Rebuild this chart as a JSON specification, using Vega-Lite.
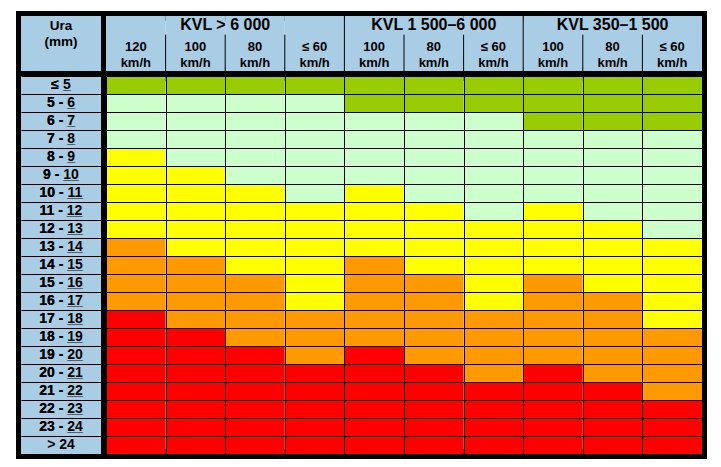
{
  "$schema": "https://vega.github.io/schema/vega-lite/v6.json",
  "background": "white",
  "padding": {"left": 16, "top": 10, "right": 5, "bottom": 5},
  "spacing": {"row": 4, "column": 5},
  "columns": 2,
  "bounds": "flush",
  "resolve": {"scale": {"x": "independent", "y": "independent"}, "axis": {"x": "independent", "y": "independent"}},
  "config": {
    "view": {"stroke": "black", "strokeWidth": 10},
    "text": {"font": "Liberation Sans", "fontWeight": "bold", "fill": "black"}
  },
  "datasets": {
    "head": [{"t": "Ura\n(mm)"}],
    "cols": [
      {"c": 1, "first": true, "sp": "120\nkm/h"},
      {"c": 2, "first": false, "sp": "100\nkm/h"},
      {"c": 3, "first": false, "sp": "80\nkm/h"},
      {"c": 4, "first": false, "sp": "≤ 60\nkm/h"},
      {"c": 5, "first": true, "sp": "100\nkm/h"},
      {"c": 6, "first": false, "sp": "80\nkm/h"},
      {"c": 7, "first": false, "sp": "≤ 60\nkm/h"},
      {"c": 8, "first": true, "sp": "100\nkm/h"},
      {"c": 9, "first": false, "sp": "80\nkm/h"},
      {"c": 10, "first": false, "sp": "≤ 60\nkm/h"}
    ],
    "groups": [
      {"g": 1, "name": "KVL > 6 000", "at": 3},
      {"g": 2, "name": "KVL 1 500–6 000", "at": 6},
      {"g": 3, "name": "KVL 350–1 500", "at": 9}
    ],
    "rows": [
      {"r": 1, "lab": "≤ 5", "ul": "≤ _"},
      {"r": 2, "lab": "5 - 6", "ul": "5 - _"},
      {"r": 3, "lab": "6 - 7", "ul": "6 - _"},
      {"r": 4, "lab": "7 - 8", "ul": "7 - _"},
      {"r": 5, "lab": "8 - 9", "ul": "8 - _"},
      {"r": 6, "lab": "9 - 10", "ul": "9 - __"},
      {"r": 7, "lab": "10 - 11", "ul": "10 - __"},
      {"r": 8, "lab": "11 - 12", "ul": "11 - __"},
      {"r": 9, "lab": "12 - 13", "ul": "12 - __"},
      {"r": 10, "lab": "13 - 14", "ul": "13 - __"},
      {"r": 11, "lab": "14 - 15", "ul": "14 - __"},
      {"r": 12, "lab": "15 - 16", "ul": "15 - __"},
      {"r": 13, "lab": "16 - 17", "ul": "16 - __"},
      {"r": 14, "lab": "17 - 18", "ul": "17 - __"},
      {"r": 15, "lab": "18 - 19", "ul": "18 - __"},
      {"r": 16, "lab": "19 - 20", "ul": "19 - __"},
      {"r": 17, "lab": "20 - 21", "ul": "20 - __"},
      {"r": 18, "lab": "21 - 22", "ul": "21 - __"},
      {"r": 19, "lab": "22 - 23", "ul": "22 - __"},
      {"r": 20, "lab": "23 - 24", "ul": "23 - __"},
      {"r": 21, "lab": "> 24", "ul": ""}
    ],
    "cells": [
      {"r":1,"c":1,"v":"G"},{"r":1,"c":2,"v":"G"},{"r":1,"c":3,"v":"G"},{"r":1,"c":4,"v":"G"},{"r":1,"c":5,"v":"G"},{"r":1,"c":6,"v":"G"},{"r":1,"c":7,"v":"G"},{"r":1,"c":8,"v":"G"},{"r":1,"c":9,"v":"G"},{"r":1,"c":10,"v":"G"},
      {"r":2,"c":1,"v":"L"},{"r":2,"c":2,"v":"L"},{"r":2,"c":3,"v":"L"},{"r":2,"c":4,"v":"L"},{"r":2,"c":5,"v":"G"},{"r":2,"c":6,"v":"G"},{"r":2,"c":7,"v":"G"},{"r":2,"c":8,"v":"G"},{"r":2,"c":9,"v":"G"},{"r":2,"c":10,"v":"G"},
      {"r":3,"c":1,"v":"L"},{"r":3,"c":2,"v":"L"},{"r":3,"c":3,"v":"L"},{"r":3,"c":4,"v":"L"},{"r":3,"c":5,"v":"L"},{"r":3,"c":6,"v":"L"},{"r":3,"c":7,"v":"L"},{"r":3,"c":8,"v":"G"},{"r":3,"c":9,"v":"G"},{"r":3,"c":10,"v":"G"},
      {"r":4,"c":1,"v":"L"},{"r":4,"c":2,"v":"L"},{"r":4,"c":3,"v":"L"},{"r":4,"c":4,"v":"L"},{"r":4,"c":5,"v":"L"},{"r":4,"c":6,"v":"L"},{"r":4,"c":7,"v":"L"},{"r":4,"c":8,"v":"L"},{"r":4,"c":9,"v":"L"},{"r":4,"c":10,"v":"L"},
      {"r":5,"c":1,"v":"Y"},{"r":5,"c":2,"v":"L"},{"r":5,"c":3,"v":"L"},{"r":5,"c":4,"v":"L"},{"r":5,"c":5,"v":"L"},{"r":5,"c":6,"v":"L"},{"r":5,"c":7,"v":"L"},{"r":5,"c":8,"v":"L"},{"r":5,"c":9,"v":"L"},{"r":5,"c":10,"v":"L"},
      {"r":6,"c":1,"v":"Y"},{"r":6,"c":2,"v":"Y"},{"r":6,"c":3,"v":"L"},{"r":6,"c":4,"v":"L"},{"r":6,"c":5,"v":"L"},{"r":6,"c":6,"v":"L"},{"r":6,"c":7,"v":"L"},{"r":6,"c":8,"v":"L"},{"r":6,"c":9,"v":"L"},{"r":6,"c":10,"v":"L"},
      {"r":7,"c":1,"v":"Y"},{"r":7,"c":2,"v":"Y"},{"r":7,"c":3,"v":"Y"},{"r":7,"c":4,"v":"L"},{"r":7,"c":5,"v":"Y"},{"r":7,"c":6,"v":"L"},{"r":7,"c":7,"v":"L"},{"r":7,"c":8,"v":"L"},{"r":7,"c":9,"v":"L"},{"r":7,"c":10,"v":"L"},
      {"r":8,"c":1,"v":"Y"},{"r":8,"c":2,"v":"Y"},{"r":8,"c":3,"v":"Y"},{"r":8,"c":4,"v":"Y"},{"r":8,"c":5,"v":"Y"},{"r":8,"c":6,"v":"Y"},{"r":8,"c":7,"v":"L"},{"r":8,"c":8,"v":"Y"},{"r":8,"c":9,"v":"L"},{"r":8,"c":10,"v":"L"},
      {"r":9,"c":1,"v":"Y"},{"r":9,"c":2,"v":"Y"},{"r":9,"c":3,"v":"Y"},{"r":9,"c":4,"v":"Y"},{"r":9,"c":5,"v":"Y"},{"r":9,"c":6,"v":"Y"},{"r":9,"c":7,"v":"Y"},{"r":9,"c":8,"v":"Y"},{"r":9,"c":9,"v":"Y"},{"r":9,"c":10,"v":"L"},
      {"r":10,"c":1,"v":"O"},{"r":10,"c":2,"v":"Y"},{"r":10,"c":3,"v":"Y"},{"r":10,"c":4,"v":"Y"},{"r":10,"c":5,"v":"Y"},{"r":10,"c":6,"v":"Y"},{"r":10,"c":7,"v":"Y"},{"r":10,"c":8,"v":"Y"},{"r":10,"c":9,"v":"Y"},{"r":10,"c":10,"v":"Y"},
      {"r":11,"c":1,"v":"O"},{"r":11,"c":2,"v":"O"},{"r":11,"c":3,"v":"Y"},{"r":11,"c":4,"v":"Y"},{"r":11,"c":5,"v":"O"},{"r":11,"c":6,"v":"Y"},{"r":11,"c":7,"v":"Y"},{"r":11,"c":8,"v":"Y"},{"r":11,"c":9,"v":"Y"},{"r":11,"c":10,"v":"Y"},
      {"r":12,"c":1,"v":"O"},{"r":12,"c":2,"v":"O"},{"r":12,"c":3,"v":"O"},{"r":12,"c":4,"v":"Y"},{"r":12,"c":5,"v":"O"},{"r":12,"c":6,"v":"O"},{"r":12,"c":7,"v":"Y"},{"r":12,"c":8,"v":"O"},{"r":12,"c":9,"v":"Y"},{"r":12,"c":10,"v":"Y"},
      {"r":13,"c":1,"v":"O"},{"r":13,"c":2,"v":"O"},{"r":13,"c":3,"v":"O"},{"r":13,"c":4,"v":"Y"},{"r":13,"c":5,"v":"O"},{"r":13,"c":6,"v":"O"},{"r":13,"c":7,"v":"Y"},{"r":13,"c":8,"v":"O"},{"r":13,"c":9,"v":"O"},{"r":13,"c":10,"v":"Y"},
      {"r":14,"c":1,"v":"R"},{"r":14,"c":2,"v":"O"},{"r":14,"c":3,"v":"O"},{"r":14,"c":4,"v":"O"},{"r":14,"c":5,"v":"O"},{"r":14,"c":6,"v":"O"},{"r":14,"c":7,"v":"O"},{"r":14,"c":8,"v":"O"},{"r":14,"c":9,"v":"O"},{"r":14,"c":10,"v":"Y"},
      {"r":15,"c":1,"v":"R"},{"r":15,"c":2,"v":"R"},{"r":15,"c":3,"v":"O"},{"r":15,"c":4,"v":"O"},{"r":15,"c":5,"v":"O"},{"r":15,"c":6,"v":"O"},{"r":15,"c":7,"v":"O"},{"r":15,"c":8,"v":"O"},{"r":15,"c":9,"v":"O"},{"r":15,"c":10,"v":"O"},
      {"r":16,"c":1,"v":"R"},{"r":16,"c":2,"v":"R"},{"r":16,"c":3,"v":"R"},{"r":16,"c":4,"v":"O"},{"r":16,"c":5,"v":"R"},{"r":16,"c":6,"v":"O"},{"r":16,"c":7,"v":"O"},{"r":16,"c":8,"v":"O"},{"r":16,"c":9,"v":"O"},{"r":16,"c":10,"v":"O"},
      {"r":17,"c":1,"v":"R"},{"r":17,"c":2,"v":"R"},{"r":17,"c":3,"v":"R"},{"r":17,"c":4,"v":"R"},{"r":17,"c":5,"v":"R"},{"r":17,"c":6,"v":"R"},{"r":17,"c":7,"v":"O"},{"r":17,"c":8,"v":"R"},{"r":17,"c":9,"v":"O"},{"r":17,"c":10,"v":"O"},
      {"r":18,"c":1,"v":"R"},{"r":18,"c":2,"v":"R"},{"r":18,"c":3,"v":"R"},{"r":18,"c":4,"v":"R"},{"r":18,"c":5,"v":"R"},{"r":18,"c":6,"v":"R"},{"r":18,"c":7,"v":"R"},{"r":18,"c":8,"v":"R"},{"r":18,"c":9,"v":"R"},{"r":18,"c":10,"v":"O"},
      {"r":19,"c":1,"v":"R"},{"r":19,"c":2,"v":"R"},{"r":19,"c":3,"v":"R"},{"r":19,"c":4,"v":"R"},{"r":19,"c":5,"v":"R"},{"r":19,"c":6,"v":"R"},{"r":19,"c":7,"v":"R"},{"r":19,"c":8,"v":"R"},{"r":19,"c":9,"v":"R"},{"r":19,"c":10,"v":"R"},
      {"r":20,"c":1,"v":"R"},{"r":20,"c":2,"v":"R"},{"r":20,"c":3,"v":"R"},{"r":20,"c":4,"v":"R"},{"r":20,"c":5,"v":"R"},{"r":20,"c":6,"v":"R"},{"r":20,"c":7,"v":"R"},{"r":20,"c":8,"v":"R"},{"r":20,"c":9,"v":"R"},{"r":20,"c":10,"v":"R"},
      {"r":21,"c":1,"v":"R"},{"r":21,"c":2,"v":"R"},{"r":21,"c":3,"v":"R"},{"r":21,"c":4,"v":"R"},{"r":21,"c":5,"v":"R"},{"r":21,"c":6,"v":"R"},{"r":21,"c":7,"v":"R"},{"r":21,"c":8,"v":"R"},{"r":21,"c":9,"v":"R"},{"r":21,"c":10,"v":"R"}
    ]
  },
  "concat": [
    {
      "width": 80,
      "height": 56,
      "data": {"name": "head"},
      "layer": [
        {"mark": {"type": "rect", "fill": "#a9cde4"}, "encoding": {}},
        {
          "mark": {"type": "text", "lineBreak": "\n", "fontSize": 13.5, "lineHeight": 16, "baseline": "middle"},
          "encoding": {
            "text": {"field": "t"},
            "y": {"datum": 0.55, "type": "quantitative", "scale": {"domain": [0, 3], "reverse": true, "nice": false, "zero": false}, "axis": null}
          }
        }
      ]
    },
    {
      "width": 596,
      "height": 56,
      "layer": [
        {
          "data": {"name": "cols"},
          "mark": {"type": "rect", "fill": "#a9cde4"},
          "encoding": {
            "x": {"field": "c", "type": "ordinal", "scale": {"domain": [1,2,3,4,5,6,7,8,9,10], "paddingInner": 0, "paddingOuter": 0}, "axis": null}
          }
        },
        {
          "data": {"name": "cols"},
          "transform": [{"filter": "!datum.first"}],
          "mark": {"type": "rule", "color": "black", "strokeWidth": 1},
          "encoding": {
            "x": {"field": "c", "type": "ordinal", "bandPosition": 0},
            "y": {"datum": 1, "type": "quantitative", "scale": {"domain": [0, 3], "reverse": true, "nice": false, "zero": false}, "axis": null},
            "y2": {"datum": 3}
          }
        },
        {
          "data": {"name": "cols"},
          "transform": [{"filter": "datum.first && datum.c > 1"}],
          "mark": {"type": "rule", "color": "black", "strokeWidth": 1},
          "encoding": {
            "x": {"field": "c", "type": "ordinal", "bandPosition": 0},
            "y": {"datum": 0, "type": "quantitative"},
            "y2": {"datum": 3}
          }
        },
        {
          "data": {"name": "cols"},
          "mark": {"type": "text", "lineBreak": "\n", "fontSize": 13, "lineHeight": 16, "baseline": "middle"},
          "encoding": {
            "x": {"field": "c", "type": "ordinal"},
            "y": {"datum": 1.65, "type": "quantitative"},
            "text": {"field": "sp"}
          }
        },
        {
          "data": {"name": "groups"},
          "transform": [{"filter": "datum.g == 1"}],
          "mark": {"type": "text", "fontSize": 16, "baseline": "middle"},
          "encoding": {
            "x": {"field": "at", "type": "ordinal", "bandPosition": 0},
            "y": {"datum": 0.5, "type": "quantitative"},
            "text": {"field": "name"}
          }
        },
        {
          "data": {"name": "groups"},
          "transform": [{"filter": "datum.g > 1"}],
          "mark": {"type": "text", "fontSize": 16, "baseline": "middle"},
          "encoding": {
            "x": {"field": "at", "type": "ordinal", "bandPosition": 0.5},
            "y": {"datum": 0.5, "type": "quantitative"},
            "text": {"field": "name"}
          }
        }
      ]
    },
    {
      "width": 80,
      "height": 378,
      "data": {"name": "rows"},
      "encoding": {
        "y": {
          "field": "r", "type": "ordinal",
          "scale": {"paddingInner": 0, "paddingOuter": 0},
          "axis": {"grid": true, "tickBand": "extent", "gridColor": "black", "gridWidth": 1, "gridOpacity": 1, "labels": false, "ticks": false, "domain": false, "title": null, "zindex": 1}
        }
      },
      "layer": [
        {"mark": {"type": "rect", "fill": "#a9cde4"}},
        {"mark": {"type": "text", "fontSize": 14, "baseline": "middle"}, "encoding": {"text": {"field": "lab"}}},
        {"mark": {"type": "text", "fontSize": 14, "baseline": "middle"}, "encoding": {"text": {"field": "ul"}}}
      ]
    },
    {
      "width": 596,
      "height": 378,
      "data": {"name": "cells"},
      "mark": {"type": "rect"},
      "encoding": {
        "x": {
          "field": "c", "type": "ordinal",
          "scale": {"paddingInner": 0, "paddingOuter": 0},
          "axis": {"orient": "top", "grid": true, "tickBand": "extent", "gridColor": "black", "gridWidth": 1, "gridOpacity": 1, "labels": false, "ticks": false, "domain": false, "title": null, "zindex": 1}
        },
        "y": {
          "field": "r", "type": "ordinal",
          "scale": {"paddingInner": 0, "paddingOuter": 0},
          "axis": {"grid": true, "tickBand": "extent", "gridColor": "black", "gridWidth": 1, "gridOpacity": 1, "labels": false, "ticks": false, "domain": false, "title": null, "zindex": 1}
        },
        "fill": {
          "field": "v", "type": "nominal",
          "scale": {"domain": ["G", "L", "Y", "O", "R"], "range": ["#99cc00", "#ccffcc", "#ffff00", "#ff9900", "#ff0000"]},
          "legend": null
        }
      }
    }
  ]
}
